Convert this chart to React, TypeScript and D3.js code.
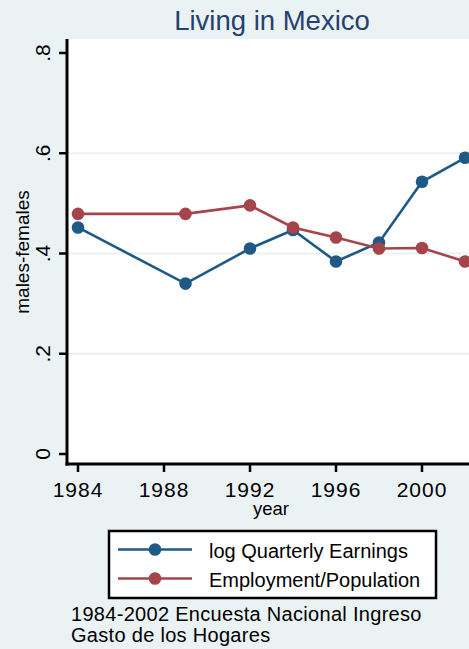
import React from "react";
import * as d3 from "d3";

const years = [1984, 1989, 1992, 1994, 1996, 1998, 2000, 2002];
const earnings = [0.452, 0.34, 0.41, 0.447, 0.384, 0.422, 0.543, 0.591];
const employment = [0.479, 0.479, 0.496, 0.452, 0.432, 0.41, 0.411, 0.384];
const xTicks = [1984, 1988, 1992, 1996, 2000];
const yTicks = [0, 0.2, 0.4, 0.6, 0.8];
const yTickLabels = ["0", ".2", ".4", ".6", ".8"];
const gridTicks = [0.2, 0.4, 0.6];
const seriesNames = ["log Quarterly Earnings", "Employment/Population"];
const noteLines = ["1984-2002 Encuesta Nacional Ingreso", "Gasto de los Hogares"];

const W = 469;
const H = 649;
const BG = "#eaf2f3";
const BLUE = "#1f5a87";
const RED = "#a5444b";
const FONT = "'Liberation Sans', Arial, sans-serif";

export default function App() {
  const x = d3.scaleLinear().domain([1984, 2000]).range([78, 422]);
  const y = d3.scaleLinear().domain([0, 0.8]).range([454, 53]);
  const plotLeft = 67;
  const plotTop = 39;
  const plotBottom = 464;
  const plotRight = 478;

  const line = d3
    .line<number>()
    .x((_, i) => x(years[i]))
    .y((d) => y(d));

  const series = [
    { name: seriesNames[0], values: earnings, color: BLUE },
    { name: seriesNames[1], values: employment, color: RED },
  ];

  const legendX = 109;
  const legendY = 531;
  const legendW = 327;
  const legendH = 67;

  return (
    <svg
      width={W}
      height={H}
      style={{ position: "absolute", left: 0, top: 0, display: "block" }}
      fontFamily={FONT}
    >
      <rect x={0} y={0} width={W} height={H} fill={BG} />
      <rect
        x={plotLeft}
        y={plotTop}
        width={plotRight - plotLeft}
        height={plotBottom - plotTop}
        fill="#ffffff"
      />
      {/* title */}
      <text x={272} y={30} textAnchor="middle" fontSize={27.5} fill="#24416e">
        Living in Mexico
      </text>
      {/* gridlines */}
      {gridTicks.map((t) => (
        <line
          key={t}
          x1={plotLeft}
          x2={plotRight}
          y1={y(t)}
          y2={y(t)}
          stroke={BG}
          strokeWidth={2}
        />
      ))}
      {/* series */}
      {series.map((s) => (
        <g key={s.name}>
          <path d={line(s.values) || ""} fill="none" stroke={s.color} strokeWidth={2.6} />
          {s.values.map((v, i) => (
            <circle key={i} cx={x(years[i])} cy={y(v)} r={6.3} fill={s.color} />
          ))}
        </g>
      ))}
      {/* y axis */}
      <line x1={plotLeft} x2={plotLeft} y1={plotTop} y2={plotBottom + 1.5} stroke="#000" strokeWidth={3} />
      {yTicks.map((t, i) => (
        <g key={t}>
          <line x1={plotLeft - 8} x2={plotLeft} y1={y(t)} y2={y(t)} stroke="#000" strokeWidth={2.5} />
          <text
            transform={`translate(50,${y(t)}) rotate(-90)`}
            textAnchor="middle"
            fontSize={21}
            fill="#000"
          >
            {yTickLabels[i]}
          </text>
        </g>
      ))}
      <text
        transform={`translate(29,252) rotate(-90)`}
        textAnchor="middle"
        fontSize={19}
        fill="#000"
      >
        males-females
      </text>
      {/* x axis */}
      <line x1={plotLeft - 1.5} x2={plotRight} y1={plotBottom} y2={plotBottom} stroke="#000" strokeWidth={3} />
      {xTicks.map((t) => (
        <g key={t}>
          <line x1={x(t)} x2={x(t)} y1={plotBottom} y2={plotBottom + 8} stroke="#000" strokeWidth={2.5} />
          <text x={x(t)} y={497} textAnchor="middle" fontSize={21} letterSpacing={1} fill="#000">
            {t}
          </text>
        </g>
      ))}
      <text x={271} y={515} textAnchor="middle" fontSize={18.5} fill="#000">
        year
      </text>
      {/* legend */}
      <rect
        x={legendX}
        y={legendY}
        width={legendW}
        height={legendH}
        fill="#ffffff"
        stroke="#000"
        strokeWidth={2.5}
      />
      {series.map((s, i) => {
        const cy = 549.5 + i * 29;
        return (
          <g key={s.name}>
            <line x1={118} x2={192} y1={cy} y2={cy} stroke={s.color} strokeWidth={2.6} />
            <circle cx={155} cy={cy} r={6.3} fill={s.color} />
            <text x={209} y={cy + 8} fontSize={20} fill="#000">
              {s.name}
            </text>
          </g>
        );
      })}
      {/* note */}
      {noteLines.map((l, i) => (
        <text key={i} x={71} y={621 + i * 20.5} fontSize={20} letterSpacing={0.3} fill="#000">
          {l}
        </text>
      ))}
    </svg>
  );
}
